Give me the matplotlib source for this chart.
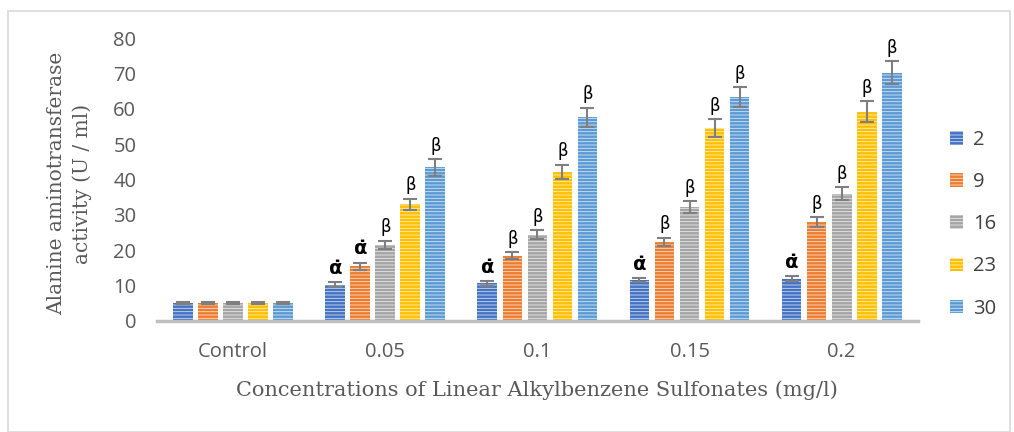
import numpy as np
import matplotlib.pyplot as plt
from matplotlib.patches import Rectangle, Patch

groups = ['Control', '0.05', '0.1', '0.15', '0.2']
series = ['2', '9', '16', '23', '30']
colors = ['#4472c4', '#ed7d31', '#a5a5a5', '#ffc000', '#5b9bd5']

vals_2 = [5.0, 10.2, 10.6, 11.6, 12.0]
vals_9 = [5.0, 15.5, 18.4, 22.4, 28.0]
vals_16 = [5.1, 21.5, 24.4, 32.2, 36.0]
vals_23 = [5.0, 33.0, 42.2, 54.6, 59.2]
vals_30 = [5.1, 43.4, 57.6, 63.4, 70.2]

err_2 = [0.3, 0.7, 0.7, 0.6, 0.7]
err_9 = [0.3, 1.0, 1.0, 1.2, 1.3]
err_16 = [0.3, 1.2, 1.3, 1.6, 1.8]
err_23 = [0.3, 1.6, 2.0, 2.5, 3.0]
err_30 = [0.3, 2.3, 2.7, 2.8, 3.3]

# significance marks (control has none)
marks_2 = ['', 'α̇', 'α̇', 'α̇', 'α̇']
marks_9 = ['', 'α̇', 'β', 'β', 'β']
marks_16 = ['', 'β', 'β', 'β', 'β']
marks_23 = ['', 'β', 'β', 'β', 'β']
marks_30 = ['', 'β', 'β', 'β', 'β']

all_vals = [vals_2, vals_9, vals_16, vals_23, vals_30]
all_errs = [err_2, err_9, err_16, err_23, err_30]
all_marks = [marks_2, marks_9, marks_16, marks_23, marks_30]

plt.rcParams['hatch.linewidth'] = 0.6
stripe = (1, 1, 1, 0.75)

fig = plt.figure(figsize=(10.14, 4.32), dpi=100)
fig.patches.append(Rectangle((0.008, 0.0), 0.988, 0.975, transform=fig.transFigure,
                             fill=False, edgecolor='#d9d9d9', linewidth=1.2))
ax = fig.add_axes([0.155, 0.257, 0.75, 0.655])

x = np.arange(len(groups))
step = 0.1645
width = 0.13
for i in range(len(series)):
    pos = x + (i - 2) * step
    ax.bar(pos, all_vals[i], width, color=colors[i], edgecolor=stripe, linewidth=0,
           hatch='-----', label=series[i], zorder=2)
    ax.errorbar(pos, all_vals[i], yerr=all_errs[i], fmt='none', ecolor='#7f7f7f',
                elinewidth=1.5, capsize=5, capthick=1.5, zorder=3)
    for j in range(len(groups)):
        m = all_marks[i][j]
        if m:
            top = all_vals[i][j] + all_errs[i][j] + 1.2
            if m == 'β':
                ax.text(pos[j], top, m, ha='center', va='bottom', fontsize=12,
                        family='DejaVu Sans', color='black')
            else:
                ax.text(pos[j], top, m, ha='center', va='bottom', fontsize=14,
                        fontweight='bold', family='DejaVu Sans', color='black')

ax.set_xlim(-0.5, 4.5)
ax.set_ylim(0, 80)
ax.set_yticks(range(0, 81, 10))
ax.set_xticks(x)
ax.set_xticklabels(groups)
for s in ['top', 'right', 'left']:
    ax.spines[s].set_visible(False)
ax.spines['bottom'].set_color('#bfbfbf')
ax.spines['bottom'].set_linewidth(2.5)
ax.tick_params(axis='both', length=0, labelsize=14.5, labelcolor='#595959')
ax.tick_params(axis='y', pad=15)
ax.tick_params(axis='x', pad=15)
for lab in ax.get_xticklabels() + ax.get_yticklabels():
    lab.set_family('Open Sans')

ax.set_xlabel('Concentrations of Linear Alkylbenzene Sulfonates (mg/l)', family='DejaVu Serif',
              fontsize=15, color='#595959', labelpad=13)
fig.text(0.069, 0.575, 'Alanine aminotransferase\nactivity (U / ml)', rotation=90,
         ha='center', va='center', family='DejaVu Serif', fontsize=14.5, color='#595959',
         linespacing=1.4)

handles = [Patch(facecolor=colors[i], edgecolor=stripe, linewidth=0, hatch='-----')
           for i in range(len(series))]
leg = fig.legend(handles, series, loc='center left', bbox_to_anchor=(0.937, 0.481),
                 frameon=False, handlelength=0.65, handleheight=0.65, labelspacing=1.1,
                 handletextpad=0.5, borderpad=0, borderaxespad=0,
                 prop={'family': 'Open Sans', 'size': 14.5})
for t in leg.get_texts():
    t.set_color('#404040')

fig.savefig('out.png', dpi=100)
